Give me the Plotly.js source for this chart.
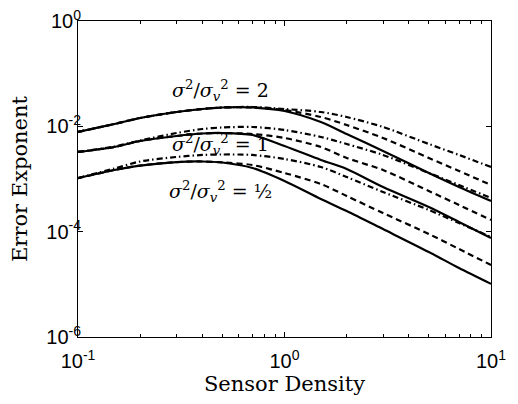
<!DOCTYPE html>
<html>
<head>
<meta charset="utf-8">
<script src="https://cdn.plot.ly/plotly-3.0.1.min.js"></script>
<style>html,body{margin:0;padding:0;background:#fff;}#chart{width:518px;height:404px;}</style>
</head>
<body>
<div id="chart"></div>
<script>
// Sensor density (x axis)
const density = [0.1, 0.15, 0.2, 0.3, 0.4, 0.5, 0.7, 1, 1.5, 2, 3, 5, 7, 10];

// sigma^2/sigma_v^2 = 2
const g2Solid   = [0.00781,0.01108,0.01440,0.01873,0.02134,0.02279,0.02279,0.01955,0.01209,0.00715,0.00340,0.00130,0.000705,0.000382];
const g2Dashed  = [0.00781,0.01108,0.01440,0.01873,0.02134,0.02279,0.02279,0.02043,0.01504,0.01060,0.00601,0.00251,0.00142,0.000769];
const g2DashDot = [0.00781,0.01108,0.01440,0.01873,0.02134,0.02279,0.02330,0.02134,0.01873,0.01504,0.00972,0.00462,0.00286,0.00169];

// sigma^2/sigma_v^2 = 1
const g1Solid   = [0.00326,0.00405,0.00527,0.00656,0.00731,0.00747,0.00685,0.00423,0.00230,0.00155,0.000705,0.000294,0.000153,0.0000759];
const g1Dashed  = [0.00326,0.00405,0.00527,0.00656,0.00731,0.00747,0.00715,0.00601,0.00405,0.00251,0.00148,0.000592,0.000321,0.000167];
const g1DashDot = [0.00326,0.00414,0.00538,0.00747,0.00890,0.00951,0.00972,0.00852,0.00628,0.00462,0.00286,0.00130,0.000769,0.000436];

// sigma^2/sigma_v^2 = 1/2
const gHSolid   = [0.00104,0.00148,0.00180,0.00210,0.00215,0.00206,0.00162,0.000917,0.000417,0.000247,0.000112,0.0000411,0.0000204,0.0000102];
const gHDashed  = [0.00104,0.00148,0.00180,0.00210,0.00215,0.00206,0.00184,0.00130,0.000804,0.000476,0.000226,0.0000904,0.0000469,0.0000233];
const gHDashDot = [0.00104,0.00158,0.00215,0.00262,0.00286,0.00292,0.00286,0.00240,0.00169,0.00109,0.000567,0.000258,0.000146,0.0000793];

const xTickVals = [0.1, 1, 10];
const xTickText = ['10<sup>-1</sup>', '10<sup>0</sup>', '10<sup>1</sup>'];
const xMinorVals = [0.2,0.3,0.4,0.5,0.6,0.7,0.8,0.9,2,3,4,5,6,7,8,9];
const yTickVals = [1e-6, 1e-4, 1e-2, 1];
const yTickText = ['10<sup>-6</sup>', '10<sup>-4</sup>', '10<sup>-2</sup>', '10<sup>0</sup>'];

const labels = [
  '<i>σ</i><sup>2</sup>/<i>σ</i><sub><i>v</i></sub><sup>2</sup> = 2',
  '<i>σ</i><sup>2</sup>/<i>σ</i><sub><i>v</i></sub><sup>2</sup> = 1',
  '<i>σ</i><sup>2</sup>/<i>σ</i><sub><i>v</i></sub><sup>2</sup> = ½'
];

const DASH = '6px,4px';
const DASHDOT = '6px,3px,1.5px,3px';
function tr(y, dash) {
  return {x: density, y: y, type: 'scatter', mode: 'lines',
    line: {color: '#000', width: 2.2, dash: dash, shape: 'spline', smoothing: 0.8},
    showlegend: false, hoverinfo: 'skip'};
}
const data = [
  tr(g2DashDot, DASHDOT), tr(g2Dashed, DASH), tr(g2Solid, 'solid'),
  tr(g1DashDot, DASHDOT), tr(g1Dashed, DASH), tr(g1Solid, 'solid'),
  tr(gHDashDot, DASHDOT), tr(gHDashed, DASH), tr(gHSolid, 'solid')
];

const tickFont = {family: 'Liberation Sans, Arial, sans-serif', size: 20, color: '#000'};
const serif = 'DejaVu Serif, Liberation Serif, serif';
const layout = {
  width: 518, height: 404,
  margin: {l: 78, r: 27, t: 21, b: 67},
  paper_bgcolor: '#fff', plot_bgcolor: '#fff',
  xaxis: {
    type: 'log', range: [-1, 1], showgrid: false, zeroline: false,
    showline: true, linecolor: '#000', linewidth: 1, mirror: 'ticks',
    ticks: 'inside', ticklen: 5, tickcolor: '#000',
    tickmode: 'array', tickvals: xTickVals, ticktext: xTickText,
    tickfont: tickFont, ticklabelstandoff: 6,
    minor: {tickmode: 'array', tickvals: xMinorVals, ticks: 'inside', ticklen: 3, tickcolor: '#000', showgrid: false},
    title: {text: 'Sensor Density', font: {family: serif, size: 21, color: '#000'}, standoff: 4}
  },
  yaxis: {
    type: 'log', range: [-6, 0], showgrid: false, zeroline: false,
    showline: true, linecolor: '#000', linewidth: 1, mirror: 'ticks',
    ticks: 'inside', ticklen: 5, tickcolor: '#000',
    tickmode: 'array', tickvals: yTickVals, ticktext: yTickText,
    tickfont: tickFont, ticklabelstandoff: -8,
    title: {text: 'Error Exponent', font: {family: serif, size: 21, color: '#000'}, standoff: 12}
  },
  annotations: [
    {xref: 'paper', yref: 'paper', x: 0.344, y: 0.78, yanchor: 'middle', text: labels[0], showarrow: false, font: {family: serif, size: 19, color: '#000'}},
    {xref: 'paper', yref: 'paper', x: 0.344, y: 0.608, yanchor: 'middle', text: labels[1], showarrow: false, font: {family: serif, size: 19, color: '#000'}},
    {xref: 'paper', yref: 'paper', x: 0.344, y: 0.46, yanchor: 'middle', text: labels[2], showarrow: false, font: {family: serif, size: 19, color: '#000'}}
  ]
};
Plotly.newPlot('chart', data, layout, {staticPlot: true, displayModeBar: false});
</script>
</body>
</html>
